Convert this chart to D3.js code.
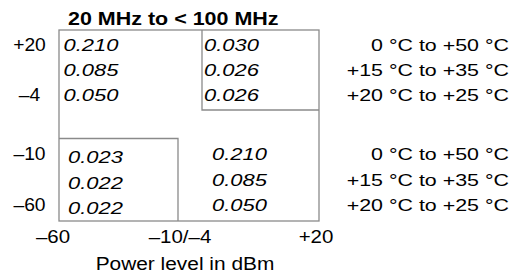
<!DOCTYPE html>
<html>
<head>
<meta charset="utf-8">
<script src="https://cdn.jsdelivr.net/npm/d3@7"></script>
<style>
    body { margin: 0; background: #fff; }
    text { font-family: "Liberation Sans", Arial, sans-serif; fill: #000; }
</style>
</head>
<body>
<svg id="mainSvg" width="513" height="274"></svg>
<script>
// 数据
const title = "20 MHz to < 100 MHz";
const xTitle = "Power level in dBm";
const tempRanges = ["0 °C to +50 °C", "+15 °C to +35 °C", "+20 °C to +25 °C"];
const upperLeft = [0.210, 0.085, 0.050];   // -60..-4 dBm, +20..-4 dBm
const upperRight = [0.030, 0.026, 0.026];  // -4..+20 dBm
const lowerLeft = [0.023, 0.022, 0.022];   // -60..-10 dBm, -10..-60 dBm
const lowerRight = [0.210, 0.085, 0.050];  // -10..+20 dBm
const yLabels = [["+20", "–4"], ["–10", "–60"]];
const xLabels = ["–60", "–10/–4", "+20"];
const xBreaks = [-60, -10, -4, 20];
const yBreaks = [20, -4, -10, -60];

let svg = d3.select('#mainSvg');
const lineColor = "#8a8a8a";
const fmt = d3.format(".3f");

// 分段线性比例尺
const x = d3.scaleLinear().domain(xBreaks).range([59, 178, 202, 319]);
const y = d3.scaleLinear().domain(yBreaks).range([30, 110, 138.5, 221]);

const rowsUpper = d3.scalePoint().domain([0, 1, 2]).range([y(20), y(-4)]).padding(0.63);
const rowsLower = d3.scalePoint().domain([0, 1, 2]).range([y(-10), y(-60)]).padding(0.63);

/**
 * 横向拉伸的文字
 */
function label(str, px, py, k, opts) {
    const t = svg.append("text")
        .text(str)
        .attr("transform", `translate(${px},${py}) scale(${k},1)`)
        .attr("font-size", opts.size + "px")
        .attr("text-anchor", opts.anchor || "start");
    if (opts.bold) t.attr("font-weight", "bold");
    if (opts.italic) t.attr("font-style", "italic");
    return t;
}

// 框线
const frame = svg.append("g")
    .attr("fill", "none")
    .attr("stroke", lineColor)
    .attr("stroke-width", 1.3);
frame.append("rect")
    .attr("x", x(-60)).attr("y", y(20))
    .attr("width", x(20) - x(-60)).attr("height", y(-60) - y(20));
frame.append("path") // 右上小框
    .attr("d", `M${x(-4)},${y(20)}V${y(-4)}H${x(20)}`);
frame.append("path") // 左下小框
    .attr("d", `M${x(-60)},${y(-10)}H${x(-10)}V${y(-60)}`);

const cap = 6;
const vOpts = {size: 17, italic: true};

// 数值
upperLeft.forEach((v, i) => label(fmt(v), x(-60) + 4.5, rowsUpper(i) + cap, 1.29, vOpts));
upperRight.forEach((v, i) => label(fmt(v), x(-4) + 2, rowsUpper(i) + cap, 1.29, vOpts));
lowerLeft.forEach((v, i) => label(fmt(v), x(-60) + 9, rowsLower(i) + cap + 3, 1.29, vOpts));
lowerRight.forEach((v, i) => label(fmt(v), x(-10) + 34, rowsLower(i) + cap, 1.29, vOpts));

// 温度范围
[rowsUpper, rowsLower].forEach(rows => {
    tempRanges.forEach((s, i) => label(s, 509, rows(i) + cap, 1.26, {size: 17, anchor: "end"}));
});

// 纵轴标签
[rowsUpper, rowsLower].forEach((rows, b) => {
    label(yLabels[b][0], 29.5, rows(0) + cap, 1.1, {size: 17.5, anchor: "middle"});
    label(yLabels[b][1], 29.5, rows(2) + cap, 1.1, {size: 17.5, anchor: "middle"});
});

// 横轴标签
const xPos = [x(-60) - 6, x(-10) + 2, x(20) - 3];
xLabels.forEach((s, i) => label(s, xPos[i], 243.3, 1.17, {size: 17.5, anchor: "middle"}));

label(xTitle, 185, 270, 1.13, {size: 18.5, anchor: "middle"});
label(title, x(-60) + 9, 25, 1.13, {size: 19, bold: true});
</script>
</body>
</html>
